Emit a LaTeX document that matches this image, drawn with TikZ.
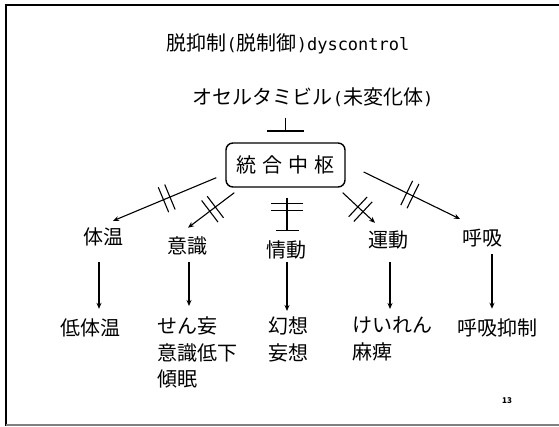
\documentclass[tikz,border=0pt]{standalone}
\usepackage{fontspec}
\setmainfont{Noto Sans CJK JP}
\newfontfamily\halfw{DejaVu Sans Mono}
\usetikzlibrary{arrows.meta,calc,decorations.markings}
\tikzset{
  lbl/.style={inner sep=0pt, outer sep=0pt, font=\fontsize{20}{26.5}\selectfont},
  mlbl/.style={lbl, align=left, anchor=north west},
  arr/.style={line width=1.1pt, -{Stealth[length=6pt,width=5pt]}},
  inh/.style={line width=1.1pt},
  brk/.style={postaction={decorate, decoration={markings,
    mark=at position #1 with {\draw[-, line width=1.1pt] (-3.5,-13.5) -- (-3.5,13.5) (3.5,-13.5) -- (3.5,13.5);}}}},
  vbrk/.style={postaction={decorate, decoration={markings,
    mark=at position #1 with {\draw[-, line width=1.1pt] (-3.5,-16) -- (-3.5,16) (3.5,-16) -- (3.5,16);}}}},
  hub/.style={draw, line width=1.4pt, rounded corners=7pt, minimum width=119pt,
    minimum height=44pt, inner sep=0pt, font=\fontsize{20}{24}\selectfont},
  frameline/.style={line width=2pt}
}
\begin{document}
\begin{tikzpicture}[x=1pt,y=-1pt]
\useasboundingbox (0,0) rectangle (559,427);
% frame
\draw[frameline] (5,5) -- (559,5);
\draw[frameline] (6,5) -- (6,426);
\draw[frameline, gray] (6,425) -- (559,425);

% texts
\node[lbl] (title) at (288,44) {脱抑制{\halfw\fontsize{17}{20}\selectfont(}脱制御{\halfw\fontsize{17}{20}\selectfont)dyscontrol}};
\node[lbl] (oseru) at (313,97) {オセルタミビル{\halfw\fontsize{17}{20}\selectfont(}未変化体{\halfw\fontsize{17}{20}\selectfont)}};
\node[hub] (box) at (285.5,165) {統\hspace{6pt}合\hspace{6pt}中\hspace{6pt}枢};

\node[lbl] (tai) at (103,237) {体温};
\node[lbl] (ishiki) at (187,246) {意識};
\node[lbl] (jodo) at (286,250) {情動};
\node[lbl] (undou) at (388,240) {運動};
\node[lbl] (kokyu) at (482,238) {呼吸};

\node[lbl] (teitai) at (90,328) {低体温};
\node[mlbl] (senmou) at (157,317) {せん妄\\意識低下\\傾眠};
\node[mlbl] (genso) at (268,317) {幻想\\妄想};
\node[mlbl] (keiren) at (352,317) {けいれん\\麻痺};
\node[lbl] (kokyuyoku) at (497,328) {呼吸抑制};
\node[inner sep=0pt, font=\fontsize{8}{9}\bfseries] (pnum) at (507,401) {13};

% inhibition from oseltamivir
\draw[inh, line width=1.5pt, -{Bar[width=37pt,line width=2.2pt]}] ([yshift=-11pt]oseru.south -| box.north) -- ([yshift=10pt]box.north);

% broken connections from hub
\draw[arr, brk=0.48] ($(box.south west)+(-9,-10)$) -- ($(tai.north)+(10,-7)$);
\draw[arr, brk=0.47] ($(box.south west)+(9,5)$) -- ($(ishiki.north)+(1,-9)$);
\draw[inh, vbrk=0.29, -{Bar[width=23pt]}] ($(box.south)+(1.5,10)$) -- ($(jodo.north)+(1,-10)$);
\draw[arr, brk=0.55] ($(box.south east)+(-3,5)$) -- ($(undou.north)+(-13,-8)$);
\draw[arr, brk=0.48] ($(box.east)+(18,7)$) -- ($(kokyu.north)+(-22,-10)$);

% consequences
\draw[arr] ([xshift=-4pt,yshift=-16pt]tai.south) -- ([xshift=9pt,yshift=10pt]teitai.north);
\draw[arr] ([xshift=2pt,yshift=-7pt]ishiki.south) -- ([xshift=32pt,yshift=11pt]senmou.north west);
\draw[arr] ([xshift=1pt,yshift=-3pt]jodo.south) -- ([xshift=19pt,yshift=6pt]genso.north west);
\draw[arr] ([xshift=2pt,yshift=-13pt]undou.south) -- ([xshift=38pt,yshift=8pt]keiren.north west);
\draw[arr] ([xshift=10pt,yshift=-7pt]kokyu.south) -- ([xshift=-5pt,yshift=10pt]kokyuyoku.north);
\end{tikzpicture}
\end{document}
